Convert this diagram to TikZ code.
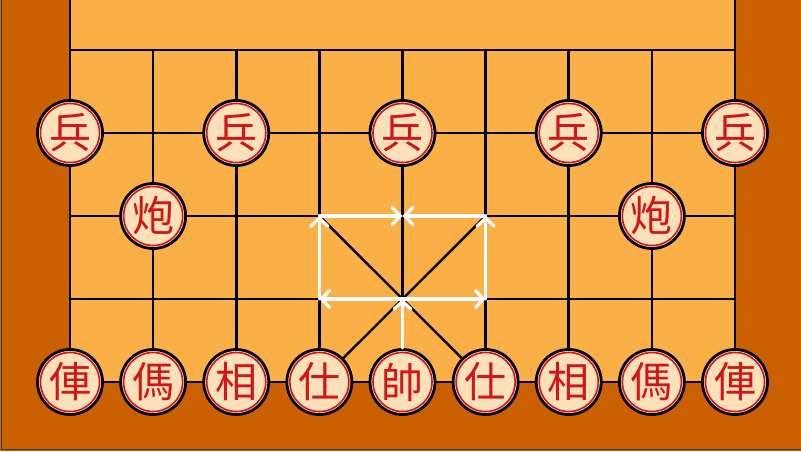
\documentclass[tikz,border=0pt]{standalone}
\usepackage{fontspec}
\newfontfamily\cjk{Noto Sans CJK TC}
\usetikzlibrary{arrows.meta}
\definecolor{boardlight}{RGB}{250,176,70}
\definecolor{boarddark}{RGB}{202,96,2}
\definecolor{piecefill}{RGB}{251,224,186}
\definecolor{piecered}{RGB}{208,22,22}
\definecolor{framegray}{RGB}{60,60,60}
\tikzset{
  gridline/.style={draw=black, line width=2.6pt},
  piece/.style={circle, draw=black, line width=2.8pt, fill=piecefill,
    minimum size=65pt, inner sep=0pt, text=piecered,
    font=\cjk\fontsize{42}{42}\selectfont,
    path picture={\draw[piecered, line width=1.6pt] (path picture bounding box.center) circle (29.5pt);}},
  move/.style={draw=white, line width=3.2pt, line cap=round,
    -{Straight Barb[length=8pt,width=17pt,line cap=round]}},
}
\begin{document}
\begin{tikzpicture}[x=1pt,y=-1pt]
\useasboundingbox (0,0) rectangle (801,451);
\fill[boarddark] (0,0) rectangle (801,451);
\fill[boardlight] (70,0) rectangle (735,382);
\draw[framegray, line width=1.6pt] (1.5,0) -- (1.5,449.5) -- (801,449.5);
% grid points
\foreach \i in {0,...,8}{
  \foreach \j in {0,...,4}{
    \coordinate (g\i\j) at ({70+83.125*\i},{50+83*\j});
  }
}
\coordinate (t0) at (70,0);
\coordinate (t8) at (735,0);
% lines
\foreach \j in {0,...,4}{ \draw[gridline] (g0\j) -- (g8\j); }
\foreach \i in {1,...,7}{ \draw[gridline] (g\i0) -- (g\i4); }
\draw[gridline] (t0) -- (g04);
\draw[gridline] (t8) -- (g84);
% palace
\draw[black, line width=2.4pt] (g32) -- (g54);
\draw[black, line width=2.4pt] (g52) -- (g34);
\fill[black] (g43) circle (3.2pt);
% moves
\draw[move] (g43) -- (g33);
\draw[move] (g43) -- (g53);
\draw[move] (g33) -- (g32);
\draw[move] (g53) -- (g52);
\draw[move] (g32) -- (g42);
\draw[move] (g52) -- (g42);
% pieces
\node[piece] (p1) at (g01) {兵};
\node[piece] (p2) at (g21) {兵};
\node[piece] (p3) at (g41) {兵};
\node[piece] (p4) at (g61) {兵};
\node[piece] (p5) at (g81) {兵};
\node[piece] (c1) at (g12) {炮};
\node[piece] (c2) at (g72) {炮};
\node[piece] (r1) at (g04) {俥};
\node[piece] (h1) at (g14) {傌};
\node[piece] (e1) at (g24) {相};
\node[piece] (a1) at (g34) {仕};
\node[piece] (k) at (g44) {帥};
\node[piece] (a2) at (g54) {仕};
\node[piece] (e2) at (g64) {相};
\node[piece] (h2) at (g74) {傌};
\node[piece] (r2) at (g84) {俥};
\draw[move] (k.north) -- (g43);
\end{tikzpicture}
\end{document}
